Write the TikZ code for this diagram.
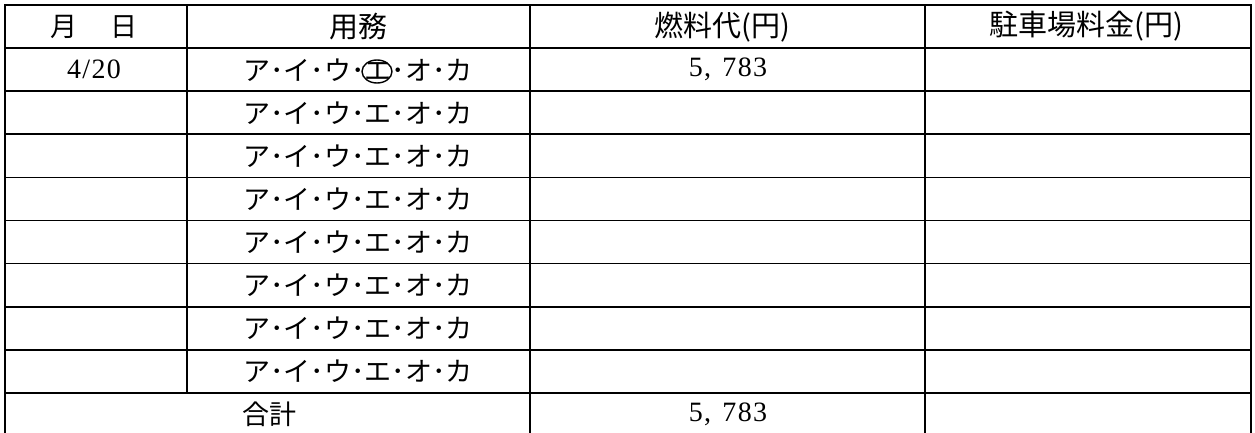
\documentclass[tikz,border=0pt]{standalone}
\usepackage{fontspec}
\setmainfont{Noto Sans CJK JP}
\newfontfamily\numfont[LetterSpace=5]{Liberation Serif}
\usepackage{tikz}

\begin{document}
\begin{tikzpicture}[x=1pt, y=-1pt,
		cell/.style={font=\fontsize{27}{30}\selectfont, inner sep=0pt},
		head/.style={font=\fontsize{29}{32}\selectfont, inner sep=0pt},
		num/.style={font=\fontsize{28}{30}\selectfont\numfont, inner sep=0pt},
		rule/.style={line width=1.6pt},
		frame/.style={line width=2pt}]
				\useasboundingbox (0,0) rectangle (1255,433);
				% frame and columns
				\draw[frame] (5,436) -- (5,5) -- (1251,5) -- (1251,436);
				\draw[rule] (187,5) -- (187,392.9);
				\draw[rule] (530,5) -- (530,436);
				\draw[rule] (925,5) -- (925,436);
				% rows
				\draw[rule] (5,48.1) -- (1251,48.1);
				\draw[rule] (5,91.2) -- (1251,91.2);
				\draw[rule] (5,134.3) -- (1251,134.3);
				\draw[rule] (5,177.4) -- (1251,177.4);
				\draw[rule] (5,220.5) -- (1251,220.5);
				\draw[rule] (5,263.6) -- (1251,263.6);
				\draw[rule] (5,306.7) -- (1251,306.7);
				\draw[rule] (5,349.8) -- (1251,349.8);
				\draw[rule] (5,392.9) -- (1251,392.9);
				% header
				\node[cell] (date) at (94,26.6) {月\hspace{1.2em}日};
				\node[head] (task) at (358,26.6) {用務};
				\node[head] (fuel) at (722,26.6) {燃料代(円)};
				\node[head] (park) at (1086,26.6) {駐車場料金(円)};
				% entries
				\node[num] (date1) at (94,69.7) {4/20};
				\node[cell] (task1) at (358,69.7) {ア･イ･ウ･エ･オ･カ};
				\node[num] (fuel1) at (728,69.7) {5,\hspace{0.4em}783};
				\draw[line width=1.4pt] (377,71.5) ellipse (15 and 11.5);
				\node[cell] (task2) at (358,112.8) {ア･イ･ウ･エ･オ･カ};
				\node[cell] (task3) at (358,155.9) {ア･イ･ウ･エ･オ･カ};
				\node[cell] (task4) at (358,199.0) {ア･イ･ウ･エ･オ･カ};
				\node[cell] (task5) at (358,242.1) {ア･イ･ウ･エ･オ･カ};
				\node[cell] (task6) at (358,285.2) {ア･イ･ウ･エ･オ･カ};
				\node[cell] (task7) at (358,328.3) {ア･イ･ウ･エ･オ･カ};
				\node[cell] (task8) at (358,371.4) {ア･イ･ウ･エ･オ･カ};
				% total
				\node[cell] (total) at (269,414.5) {合計};
				\node[num] (fuelsum) at (728,414.5) {5,\hspace{0.4em}783};
			\end{tikzpicture}
\end{document}
